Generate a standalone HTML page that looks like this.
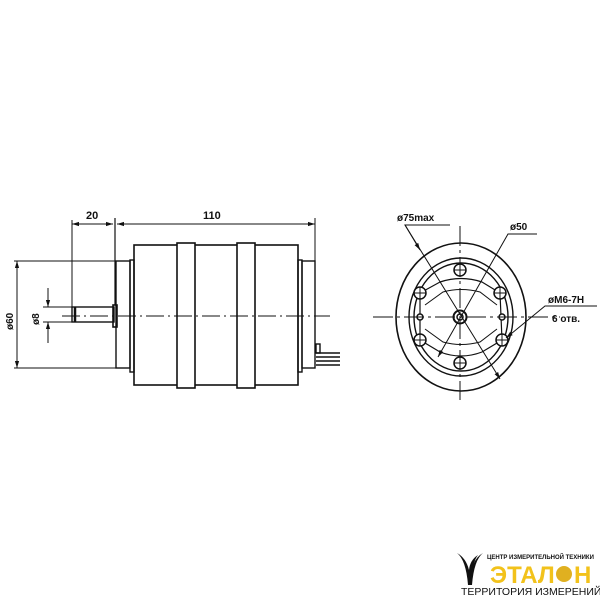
<!DOCTYPE html>
<html><head><meta charset="utf-8"><style>
html,body{margin:0;padding:0;background:#fff;width:600px;height:600px;overflow:hidden}
svg{display:block}
text{font-family:"Liberation Sans","DejaVu Sans",sans-serif;fill:#111}
</style></head><body>
<svg width="600" height="600" viewBox="0 0 600 600" xmlns="http://www.w3.org/2000/svg">
<defs>
<marker id="a" viewBox="0 0 10 10" refX="10" refY="5" markerWidth="7" markerHeight="7" orient="auto-start-reverse"><path d="M0,2 L10,5 L0,8 Z" fill="#111"/></marker>
</defs>
<g stroke="#111" fill="none" stroke-width="1.4">
<!-- side view -->
<rect x="72" y="307" width="42" height="15"/>
<line x1="75" y1="307" x2="75" y2="322" stroke-width="2.5"/>
<rect x="113" y="305" width="4" height="22" stroke-width="1.6"/>
<rect x="116" y="261" width="14" height="107"/>
<rect x="130" y="260" width="4" height="112"/>
<rect x="134" y="245" width="164" height="140" stroke-width="1.6"/>
<rect x="177" y="243" width="18" height="145" fill="#fff" stroke-width="1.6"/>
<rect x="237" y="243" width="18" height="145" fill="#fff" stroke-width="1.6"/>
<rect x="298" y="260" width="4" height="112"/>
<rect x="302" y="261" width="13" height="107"/>
<rect x="316" y="344" width="4" height="9"/>
<line x1="316" y1="353" x2="340" y2="353"/>
<line x1="316" y1="357" x2="340" y2="357"/>
<line x1="316" y1="361" x2="340" y2="361"/>
<line x1="316" y1="365" x2="340" y2="365"/>
<line x1="62" y1="316" x2="330" y2="316" stroke-width="1" stroke-dasharray="18,4,2,4"/>
<!-- dims -->
<line x1="72" y1="220" x2="72" y2="322" stroke-width="1"/>
<line x1="115" y1="218" x2="115" y2="305" stroke-width="1.2"/>
<line x1="315" y1="218" x2="315" y2="261" stroke-width="1"/>
<line x1="72" y1="224" x2="113" y2="224" stroke-width="1" marker-start="url(#a)" marker-end="url(#a)"/>
<line x1="117" y1="224" x2="315" y2="224" stroke-width="1" marker-start="url(#a)" marker-end="url(#a)"/>
<line x1="14" y1="261" x2="116" y2="261" stroke-width="1"/>
<line x1="14" y1="368" x2="116" y2="368" stroke-width="1"/>
<line x1="17" y1="261" x2="17" y2="368" stroke-width="1" marker-start="url(#a)" marker-end="url(#a)"/>
<line x1="43" y1="307" x2="72" y2="307" stroke-width="1"/>
<line x1="43" y1="322" x2="72" y2="322" stroke-width="1"/>
<line x1="48" y1="288" x2="48" y2="307" stroke-width="1" marker-end="url(#a)"/>
<line x1="48" y1="343" x2="48" y2="322" stroke-width="1" marker-end="url(#a)"/>
<!-- end view -->
<ellipse cx="461" cy="317" rx="65" ry="74" stroke-width="1.6"/>
<ellipse cx="461" cy="317" rx="52" ry="59"/>
<ellipse cx="461" cy="317" rx="47" ry="54"/>
<path d="M420,293 L440,282 Q461,275 482,282 L500,293 L502,340 L482,352 Q461,360 440,352 L420,340 Z" stroke-width="1.2"/>
<path d="M425,305 L443,292 Q461,287 480,292 L497,305 M425,329 L443,342 Q461,347 480,342 L497,329" stroke-width="1"/>
<g fill="#fff" stroke-width="1.5">
<circle cx="460" cy="270" r="6"/><circle cx="460" cy="363" r="6"/>
<circle cx="420" cy="293" r="6"/><circle cx="500" cy="293" r="6"/>
<circle cx="420" cy="340" r="6"/><circle cx="502" cy="340" r="6"/>
<circle cx="420" cy="317" r="3"/><circle cx="502" cy="317" r="3"/>
<circle cx="460" cy="317" r="6.5" stroke-width="2"/><circle cx="460" cy="317" r="3"/>
</g>
<g stroke-width="1">
<path d="M454,270h12M460,264v12M454,363h12M460,357v12M414,293h12M420,287v12M494,293h12M500,287v12M414,340h12M420,334v12M496,340h12M502,334v12"/>
</g>
<line x1="460" y1="226" x2="460" y2="400" stroke-width="1" stroke-dasharray="20,4,3,4"/>
<line x1="373" y1="317" x2="560" y2="317" stroke-width="1" stroke-dasharray="20,4,3,4"/>
<polyline points="450,225 405,225 500,379" stroke-width="1" marker-end="url(#a)"/>
<line x1="405" y1="225" x2="420" y2="250" stroke-width="1" marker-end="url(#a)"/>
<polyline points="537,234 508,234 438,357" stroke-width="1" marker-end="url(#a)"/>
<polyline points="597,306 545,306 506,338" stroke-width="1" marker-end="url(#a)"/>
</g>
<text x="86" y="219" font-size="11" font-weight="bold">20</text>
<text x="203" y="219" font-size="11" font-weight="bold">110</text>
<text transform="translate(13,330) rotate(-90)" font-size="10" font-weight="bold">ø60</text>
<text transform="translate(39,325) rotate(-90)" font-size="10" font-weight="bold">ø8</text>
<text x="397" y="221" font-size="10" font-weight="bold">ø75max</text>
<text x="510" y="230" font-size="10" font-weight="bold">ø50</text>
<text x="548" y="303" font-size="10" font-weight="bold">øM6-7H</text>
<text x="552" y="322" font-size="10" font-weight="bold">6 отв.</text>
<!-- logo -->
<path d="M457,553 Q466,560 468,585 L471,585 Q472,562 478,555 Q470,560 469,570 Q466,558 457,553 Z" fill="#111"/>
<path d="M483,553 Q474,560 472,585 L470,585 Q470,560 483,553 Z" fill="#111"/>
<text x="487" y="559" font-size="6" font-weight="bold">ЦЕНТР ИЗМЕРИТЕЛЬНОЙ ТЕХНИКИ</text>
<text x="490" y="583" font-size="24" font-weight="bold" style="fill:#f2c21b">ЭТАЛ</text>
<circle cx="564" cy="574" r="8" fill="#e0b020"/>
<text x="574" y="583" font-size="24" font-weight="bold" style="fill:#f2c21b">Н</text>
<text x="461" y="595" font-size="10.5">ТЕРРИТОРИЯ ИЗМЕРЕНИЙ</text>
</svg>
</body></html>
